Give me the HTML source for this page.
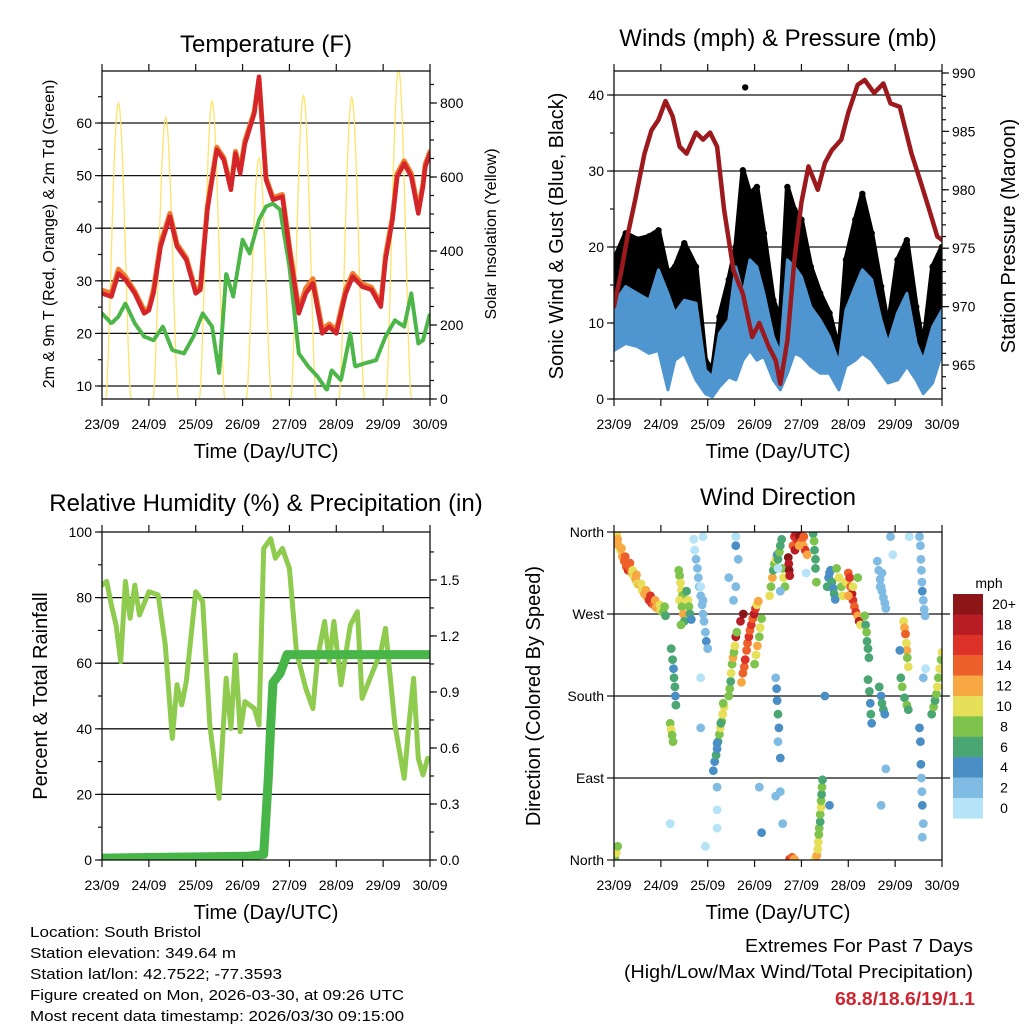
<!DOCTYPE html>
<html><head><meta charset="utf-8"><title>Station Meteogram</title>
<style>
html,body{margin:0;padding:0;background:#fff;}
svg{display:block;font-family:"Liberation Sans",Arial,sans-serif;}
</style></head>
<body>
<svg id="chart" width="1024" height="1024" viewBox="0 0 1024 1024" xmlns="http://www.w3.org/2000/svg">
<rect x="0" y="0" width="1024" height="1024" fill="#fff"/>
<text x="266" y="52" font-size="24" text-anchor="middle">Temperature (F)</text>
<text x="778" y="46" font-size="24" text-anchor="middle">Winds (mph) &amp; Pressure (mb)</text>
<text x="266" y="511" font-size="24" text-anchor="middle">Relative Humidity (%) &amp; Precipitation (in)</text>
<text x="778" y="505" font-size="24" text-anchor="middle">Wind Direction</text>
<text x="266" y="458" font-size="20" text-anchor="middle">Time (Day/UTC)</text>
<text x="778" y="458" font-size="20" text-anchor="middle">Time (Day/UTC)</text>
<text x="266" y="919" font-size="20" text-anchor="middle">Time (Day/UTC)</text>
<text x="778" y="919" font-size="20" text-anchor="middle">Time (Day/UTC)</text>
<text transform="translate(54,234) rotate(-90)" font-size="16" text-anchor="middle">2m &amp; 9m T (Red, Orange) &amp; 2m Td (Green)</text>
<text transform="translate(496,234) rotate(-90)" font-size="16" text-anchor="middle">Solar Insolation (Yellow)</text>
<text transform="translate(563,236) rotate(-90)" font-size="20" text-anchor="middle">Sonic Wind &amp; Gust (Blue, Black)</text>
<text transform="translate(1015,236) rotate(-90)" font-size="20" text-anchor="middle">Station Pressure (Maroon)</text>
<text transform="translate(47,696) rotate(-90)" font-size="20" text-anchor="middle">Percent &amp; Total Rainfall</text>
<text transform="translate(540,696) rotate(-90)" font-size="20" text-anchor="middle">Direction (Colored By Speed)</text>
<g font-size="15">
<text x="30" y="937" textLength="171" lengthAdjust="spacingAndGlyphs">Location: South Bristol</text>
<text x="30" y="958" textLength="206" lengthAdjust="spacingAndGlyphs">Station elevation: 349.64 m</text>
<text x="30" y="979" textLength="252" lengthAdjust="spacingAndGlyphs">Station lat/lon: 42.7522; -77.3593</text>
<text x="30" y="1000" textLength="374" lengthAdjust="spacingAndGlyphs">Figure created on Mon, 2026-03-30, at 09:26 UTC</text>
<text x="30" y="1021" textLength="374" lengthAdjust="spacingAndGlyphs">Most recent data timestamp: 2026/03/30 09:15:00</text>
</g>
<g font-size="18">
<text x="745" y="952" textLength="228" lengthAdjust="spacingAndGlyphs">Extremes For Past 7 Days</text>
<text x="624" y="978" textLength="349" lengthAdjust="spacingAndGlyphs">(High/Low/Max Wind/Total Precipitation)</text>
<text x="835" y="1005" textLength="140" lengthAdjust="spacingAndGlyphs" fill="#cf2430" font-weight="bold">68.8/18.6/19/1.1</text>
</g>
<g id="plots"></g>
</svg>
<script>
// ---------- data (time in days since 23/09 00 UTC) ----------
const dayLabels = ["23/09","24/09","25/09","26/09","27/09","28/09","29/09","30/09"];
const tempTime = [0,0.2,0.35,0.5,0.7,0.9,1.0,1.1,1.25,1.45,1.6,1.8,2.0,2.1,2.25,2.45,2.6,2.75,2.85,2.95,3.05,3.25,3.35,3.5,3.65,3.85,4.0,4.2,4.35,4.5,4.7,4.85,5.0,5.2,5.35,5.55,5.75,5.95,6.05,6.2,6.3,6.45,6.6,6.75,6.85,6.9,7.0];
const temp2m = [27.6,27,31.4,30.2,27.6,23.8,24.4,27.6,36.5,42.2,36.5,34,27.6,28.3,43.5,54.9,53,47.3,54.2,50.4,56,61.8,68.8,49.2,45.4,46,35.9,23.8,27.6,29.5,20,21.3,20,27.6,30.8,28.9,28.3,25.1,34,41.6,49.8,52.3,49.8,42.8,47.9,51.7,54.2];
const temp9m = [28.2,27.6,32.2,30.8,28.0,24.4,24.8,28.4,37.2,42.8,37.0,34.4,28.2,28.8,44.2,55.4,53.4,47.8,54.6,51.0,56.6,62.2,68.4,49.6,45.8,46.4,36.6,24.6,28.6,30.4,20.8,21.8,20.6,28.4,31.4,29.4,28.8,25.6,34.8,42.2,50.4,52.8,50.4,43.4,48.4,52.2,54.6];
const dewTime = [0,0.2,0.35,0.5,0.7,0.9,1.1,1.3,1.5,1.75,1.95,2.15,2.35,2.5,2.65,2.8,3.0,3.15,3.35,3.5,3.65,3.8,4.0,4.2,4.4,4.6,4.8,4.9,5.1,5.3,5.4,5.6,5.85,6.05,6.25,6.45,6.6,6.75,6.85,7.0];
const dewpoint = [23.8,21.9,23.2,25.7,21.9,19.4,18.7,21.3,16.8,16.2,19.4,23.8,21.3,12.4,31.4,27,37.8,35.2,41.6,44.1,44.7,43.5,32.7,16.2,13.7,11.8,9.2,13,11.1,20,13.7,14.3,14.9,19.4,22.5,21.3,27.6,18.1,18.7,23.8];
const solarPeak = [800,760,805,650,820,815,890];
const solarNoon = [0.35,1.36,2.35,3.35,4.3,5.33,6.33];
const tempTicks = [10,20,30,40,50,60];
const solarTicks = [0,200,400,600,800];

const windTime = [0,0.25,0.5,0.75,0.95,1.15,1.3,1.5,1.75,1.95,2.1,2.25,2.45,2.6,2.75,2.9,3.05,3.2,3.4,3.55,3.7,3.85,4.0,4.2,4.4,4.6,4.8,4.95,5.15,5.3,5.5,5.7,5.85,6.05,6.25,6.45,6.6,6.8,7.0];
const gustMax = [18.3,21.8,21,21.4,22.2,16.5,17.4,20.5,17.4,5.1,3.8,10.8,15.7,20,30.1,27,27.9,21.8,13,10.4,27.9,24.9,23.6,17.4,13.9,11.3,6.4,18.3,23.6,27,21.8,14.8,9.5,18.3,20.9,12.1,6.9,17.4,20];
const sonicHigh = [12.6,14.8,13.9,13,17,13.9,11.3,13,12.6,3.8,2.9,8.6,10.4,17.4,13.9,18.3,17.4,13.9,8.2,6,18.3,17.4,16.1,12.1,10.4,8.2,4.7,11.7,14.8,17,15.7,10.4,7.3,11.3,13.9,7.3,5.1,9.5,11.7];
const sonicLow = [6.4,7.3,6.9,6,6.4,1.2,5.1,6,2.5,0.7,0.3,1.6,2.9,2.5,5.1,6.4,5.1,5.6,2.5,1.2,3.4,6,5.6,4.3,3.4,3.4,1.2,4.3,5.1,6,5.1,3.4,2.1,2.5,4.3,2.5,0.7,2.1,6];
const gustOutlierTime = [2.8];
const gustOutlier = [41];
const presTime = [0,0.15,0.3,0.45,0.65,0.8,0.95,1.1,1.25,1.4,1.55,1.75,1.9,2.05,2.2,2.35,2.55,2.75,2.95,3.1,3.3,3.45,3.55,3.7,3.85,4.0,4.15,4.35,4.5,4.65,4.85,5.0,5.2,5.35,5.55,5.75,5.9,6.1,6.35,6.55,6.75,6.9,7.0];
const pressure = [970,972.9,976.3,979.1,983.1,985.1,986,987.6,986.3,983.7,983.1,984.9,984.3,984.9,983.7,978.3,973.1,971.1,967.4,968.6,966.6,965.4,963.4,967.1,974,978.9,982,980,982.3,983.4,984.3,986.6,989,989.4,988.3,989.1,987.4,987.1,983.1,980.6,978,976,975.7];
const windTicks = [0,10,20,30,40];
const presTicks = [965,970,975,980,985,990];

const rhTime = [0,0.1,0.2,0.3,0.4,0.5,0.6,0.7,0.8,1.0,1.2,1.35,1.5,1.6,1.7,1.8,2.0,2.15,2.3,2.5,2.65,2.75,2.85,2.95,3.05,3.25,3.35,3.45,3.6,3.7,3.85,4.0,4.15,4.35,4.5,4.6,4.75,4.85,4.95,5.1,5.3,5.45,5.55,5.75,5.95,6.05,6.25,6.45,6.55,6.65,6.75,6.85,6.95];
const rhValues = [83.8,84.9,77.7,71.6,60.5,84.9,73.7,83.8,74.7,81.8,80.8,65.5,37.1,53.4,47.3,54.4,81.8,78.8,41.2,18.8,55.4,40.1,62.5,39.1,48.3,46.2,41.2,95,98,92,95,88.9,63.5,52.3,46.2,61.5,72.7,60.5,72.7,53.4,71.6,75.7,49.3,56.4,63.5,70.6,41.2,24.9,41.2,55.4,31,25.9,31];
const precipTime = [0,3.1,3.45,3.55,3.6,3.65,3.8,3.95,7.0];
const precipTotal = [0.01,0.02,0.03,0.44,0.72,0.95,1.0,1.1,1.1];
const rhTicks = [0,20,40,60,80,100];
const precipTicks = [0.0,0.3,0.6,0.9,1.2,1.5];
const precipTickLabels = ["0.0","0.3","0.6","0.9","1.2","1.5"];

const dirTickValues = [0,90,180,270,360];
const dirTickLabels = ["North","East","South","West","North"];
const speedBins = ["0","2","4","6","8","10","12","14","16","18","20+"];
const speedColors = ["#b5e3f7","#7fbbe3","#4a8ec6","#4aa673","#7ec34b","#e6df58","#f7a843","#ee6029","#dd3228","#b81c24","#8c1518"];
// [time, direction deg, speed mph]
const dirObs = [
[0.00,355,10],[0.03,350,12],[0.06,357,11],[0.10,345,12],[0.14,340,11],[0.18,333,13],[0.22,328,14],[0.26,322,15],[0.30,318,16],[0.34,326,14],[0.38,315,12],[0.42,312,11],[0.46,308,13],[0.50,303,10],[0.55,302,12],[0.60,296,11],[0.65,292,13],[0.70,289,12],[0.75,285,17],[0.80,282,16],[0.85,280,14],[0.90,277,12],[0.95,276,12],[1.00,274,10],[1.05,272,8],[1.10,268,7],
[0.02,360,11],[0.08,352,13],[0.16,342,12],[0.24,333,14],[0.32,322,15],[0.40,318,10],[0.48,313,12],[0.58,303,11],[0.68,296,12],[0.78,290,16],[0.88,285,12],[0.98,280,11],[1.08,278,9],
[1.38,318,8],[1.40,312,9],[1.42,304,10],[1.44,296,11],[1.46,290,8],[1.40,285,10],[1.45,278,9],[1.48,270,12],[1.50,262,7],[1.43,258,8],
[1.55,295,7],[1.58,285,10],[1.60,278,8],[1.62,270,6],[1.65,264,4],
[1.22,232,6],[1.25,220,6],[1.27,210,5],[1.28,200,6],[1.30,190,6],[1.31,180,4],[1.32,170,6],[1.20,150,8],[1.22,143,10],[1.24,137,9],[1.26,130,8],
[1.70,352,1],[1.75,330,2],[1.78,320,2],[1.80,310,3],[1.82,300,2],[1.85,290,2],[1.88,280,2],[1.90,270,3],[1.92,262,2],[1.95,250,2],[1.97,240,4],[2.00,232,2],[1.85,300,1],[1.90,285,2],[1.72,340,1],
[2.12,98,4],[2.15,108,4],[2.18,115,6],[2.20,122,4],[2.22,130,6],[2.25,138,8],[2.27,145,10],[2.30,152,8],[2.32,160,10],[2.35,168,10],[2.20,128,4],[2.28,150,6],[2.33,172,8],
[2.45,180,8],[2.47,188,8],[2.49,196,6],[2.50,205,10],[2.52,215,8],[2.54,222,12],[2.56,228,8],[2.58,235,10],[2.60,245,18],[2.62,250,8],
[2.72,195,12],[2.75,205,14],[2.78,212,14],[2.80,220,16],[2.83,230,14],[2.85,238,14],[2.88,245,16],[2.90,252,14],[2.93,258,16],[2.96,265,14],[2.99,270,18],[3.02,276,16],[3.05,280,10],[3.08,284,12],[2.70,262,18],[2.76,270,20],
[3.00,215,8],[3.03,225,10],[3.06,235,12],[3.10,245,8],[3.12,255,10],[3.15,265,9],
[3.45,200,2],[3.47,188,4],[3.48,175,4],[3.50,160,6],[3.52,145,4],[3.50,130,2],[3.55,112,4],
[3.32,290,10],[3.35,300,8],[3.38,310,12],[3.40,318,6],[3.42,325,8],[3.45,330,10],[3.48,335,4],[3.50,330,6],[3.53,338,8],[3.55,345,6],[3.58,352,6],[3.60,320,8],[3.62,310,10],[3.65,300,8],
[3.72,332,20],[3.73,325,18],[3.74,318,20],[3.75,312,18],
[3.82,345,14],[3.85,355,16],[3.88,358,18],[3.90,352,16],[3.93,360,18],[3.96,355,20],[4.00,350,14],[4.04,345,12],[4.08,340,16],[4.12,335,12],[3.86,340,18],[3.95,345,12],[4.05,355,14],
[4.25,358,6],[4.27,350,8],[4.28,340,6],[4.30,330,6],[4.30,320,6],[4.32,305,8],
[4.30,2,10],[4.33,5,12],[4.35,12,10],[4.36,20,10],[4.37,28,8],[4.38,35,8],[4.40,42,6],[4.40,50,8],[4.42,58,10],[4.42,65,8],[4.43,72,6],[4.44,80,8],[4.45,88,6],
[3.75,1,16],[3.80,3,14],[3.85,1,12],[0.02,2,8],[0.05,8,10],[0.08,15,8],
[4.55,300,6],[4.58,310,4],[4.60,315,4],[4.62,318,4],[4.65,305,6],[4.68,298,4],[4.70,292,6],[4.72,286,4],[4.75,320,8],[4.80,310,10],[4.85,300,8],[4.88,290,10],
[4.95,305,10],[5.00,315,14],[5.03,310,16],[5.05,300,14],[5.08,292,18],[5.10,285,16],[5.13,278,14],[5.16,272,16],[5.20,268,12],[5.23,262,18],[5.26,258,10],[5.00,290,12],[5.10,300,10],[5.20,310,8],
[5.35,268,8],[5.37,258,6],[5.39,250,8],[5.40,240,6],[5.42,232,6],[5.44,222,6],
[5.42,198,6],[5.45,185,6],[5.47,172,4],[5.48,160,6],[5.50,150,4],
[5.62,328,2],[5.65,318,2],[5.68,308,2],[5.70,300,2],[5.72,295,2],[5.75,288,2],[5.78,282,2],[5.80,276,2],[5.72,315,2],[5.68,300,2],
[5.66,190,6],[5.70,180,4],[5.72,172,6],[5.75,165,6],[5.78,160,4],
[6.18,262,10],[6.20,255,12],[6.22,248,14],[6.24,238,10],[6.25,230,12],[6.26,222,8],[6.28,212,10],
[6.12,200,6],[6.15,190,8],[6.20,178,6],[6.25,170,8],[6.28,165,6],
[6.52,355,2],[6.54,345,2],[6.55,330,2],[6.56,318,2],[6.57,305,2],[6.58,295,4],[6.60,285,2],[6.62,275,2],[6.64,268,2],
[6.52,145,4],[6.54,130,4],[6.55,105,4],[6.56,90,2],[6.57,75,2],[6.58,60,4],[6.60,40,2],[6.58,25,2],
[6.78,160,6],[6.82,168,8],[6.85,175,6],[6.88,182,8],[6.90,190,10],[6.92,200,8],[6.95,210,10],[6.98,220,8],[7.00,228,10],
[1.90,355,1],[2.60,355,1],[2.60,345,4],[2.65,330,2],[2.55,285,2],[2.45,310,2],[1.85,200,1],[1.85,145,2],[2.20,80,2],[2.20,55,1],[2.20,35,1],[1.20,40,1],[2.60,300,2],[3.50,320,1],[3.55,295,2],[3.55,75,2],[3.45,70,2],[3.10,80,2],[3.15,30,4],[4.10,315,1],[5.90,355,2],[6.30,355,1],[5.95,335,1],[5.70,60,2],[5.80,100,2],[6.60,200,2],[4.50,180,4],[6.10,230,4],[6.65,210,1],[4.60,60,4],[3.60,40,2],[1.95,15,1]
];

// ---------- helpers ----------
const NS = "http://www.w3.org/2000/svg";
const root = document.getElementById("plots");
function mk(tag, parent) { const e = document.createElementNS(NS, tag); (parent || root).appendChild(e); return e; }
function pathFrom(xs, ys, fx, fy) { let d = ""; for (let i = 0; i < xs.length; i++) d += (i ? "L" : "M") + fx(xs[i]).toFixed(1) + "," + fy(ys[i]).toFixed(1); return d; }

function panel(x0, x1, y0, y1) { return { x0, x1, y0, y1, X: d => x0 + d * (x1 - x0) / 7 }; }
const P1 = panel(102, 430, 71, 399);
const P2 = panel(614, 942, 71, 399);
const P3 = panel(102, 430, 532, 860);
const P4 = panel(614, 942, 532, 860);
const yTemp = v => 386 - (v - 10) * 5.26;
const ySolar = v => 399 - v * 0.37;
const yWind = v => 399 - v * 7.6;
const yPres = v => 365 - (v - 965) * 11.68;
const yRH = v => 860 - v * 3.28;
const yPrec = v => 860 - v * 186.7;
const yDir = v => 860 - v * 328 / 360;

function clipFor(P, id) {
  const cp = mk("clipPath"); cp.setAttribute("id", id);
  
  
  const r = mk("rect", cp); r.setAttribute("x", P.x0); r.setAttribute("y", P.y0); r.setAttribute("width", P.x1 - P.x0); r.setAttribute("height", P.y1 - P.y0);
  const g = mk("g"); g.setAttribute("clip-path", "url(#" + id + ")");
  
  
  return g;
}
function gridLines(P, vals, fy, ext) {
  vals.forEach(v => {
    const y = fy(v); if (y <= P.y0 + 1 || y >= P.y1 - 1) return;
    const l = mk("line"); l.setAttribute("x1", P.x0); l.setAttribute("x2", P.x1 + (ext || 0)); l.setAttribute("y1", y); l.setAttribute("y2", y);
    l.setAttribute("stroke", "#111"); l.setAttribute("stroke-width", "1.3");
    
    
  });
}
function tick(x1, y1, x2, y2) {
  const l = mk("line"); l.setAttribute("x1", x1); l.setAttribute("y1", y1); l.setAttribute("x2", x2); l.setAttribute("y2", y2);
  l.setAttribute("stroke", "#111"); l.setAttribute("stroke-width", "1.2");
  
  
}
function label(x, y, txt, anchor, size) {
  const t = mk("text"); t.setAttribute("x", x); t.setAttribute("y", y); t.setAttribute("text-anchor", anchor); t.setAttribute("font-size", size || 14);
  t.textContent = txt;
  
  
}
function frame(P) {
  const r = mk("rect"); r.setAttribute("x", P.x0); r.setAttribute("y", P.y0); r.setAttribute("width", P.x1 - P.x0); r.setAttribute("height", P.y1 - P.y0);
  r.setAttribute("fill", "none"); r.setAttribute("stroke", "#111"); r.setAttribute("stroke-width", "1.3");
  
  
  dayLabels.forEach((lab, i) => {
    const x = P.X(i); tick(x, P.y1, x, P.y1 + 7); tick(x, P.y0, x, P.y0 - 7);
    label(x, P.y1 + 30, lab, "middle", 14);
  });
}
function leftAxis(P, vals, labs, fy, minorStep, lo, hi) {
  vals.forEach((v, i) => { const y = fy(v); tick(P.x0, y, P.x0 - 7, y); label(P.x0 - 10, y + 5, labs[i], "end", 14); });
  if (minorStep) for (let v = lo; v <= hi + 1e-9; v += minorStep) { const y = fy(v); if (y >= P.y0 && y <= P.y1) tick(P.x0, y, P.x0 - 4, y); }
}
function rightAxis(P, vals, labs, fy, minorStep, lo, hi) {
  vals.forEach((v, i) => { const y = fy(v); tick(P.x1, y, P.x1 + 7, y); label(P.x1 + 10, y + 5, labs[i], "start", 14); });
  if (minorStep) for (let v = lo; v <= hi + 1e-9; v += minorStep) { const y = fy(v); if (y >= P.y0 && y <= P.y1) tick(P.x1, y, P.x1 + 4, y); }
}
function line(g, xs, ys, P, fy, color, w, name, dash) {
  const p = mk("path", g); p.setAttribute("d", pathFrom(xs, ys, P.X, fy));
  p.setAttribute("fill", "none"); p.setAttribute("stroke", color); p.setAttribute("stroke-width", w);
  p.setAttribute("stroke-linejoin", "round"); p.setAttribute("stroke-linecap", "round");
  if (dash) p.setAttribute("stroke-dasharray", dash);
  
  
  return p;
}

// ---------- Panel 1: temperature ----------
gridLines(P1, tempTicks, yTemp);
const g1 = clipFor(P1, "c1");
solarPeak.forEach((pk, i) => {
  const c = solarNoon[i]; let d = "";
  for (let k = 0; k <= 40; k++) {
    const f = k / 40, t = c - 0.27 + 0.54 * f, s = Math.pow(Math.sin(Math.PI * f), 1.6);
    d += (k ? "L" : "M") + P1.X(t).toFixed(1) + "," + ySolar(pk * s).toFixed(1);
  }
  const p = mk("path", g1); p.setAttribute("d", d); p.setAttribute("fill", "none"); p.setAttribute("stroke", "#ffe36b"); p.setAttribute("stroke-width", "1.3");
  
  
});
line(g1, dewTime, dewpoint, P1, yTemp, "#4cb648", 4, "dewpoint-2m-line", "3 2");
line(g1, tempTime, temp9m, P1, yTemp, "#f07c2c", 5, "temperature-9m-line");
line(g1, tempTime, temp2m, P1, yTemp, "#d4252a", 4.5, "temperature-2m-line");
frame(P1);
leftAxis(P1, tempTicks, tempTicks.map(String), yTemp, 5, 5, 70);
rightAxis(P1, solarTicks, solarTicks.map(String), ySolar, 50, 0, 900);

// ---------- Panel 2: winds & pressure ----------
gridLines(P2, windTicks, yWind);
const g2 = clipFor(P2, "c2");
{
  let d = pathFrom(windTime, gustMax, P2.X, yWind);
  for (let i = windTime.length - 1; i >= 0; i--) d += "L" + P2.X(windTime[i]).toFixed(1) + "," + yWind(sonicHigh[i]).toFixed(1);
  const p = mk("path", g2); p.setAttribute("d", d + "Z"); p.setAttribute("fill", "#000"); p.setAttribute("stroke", "#000"); p.setAttribute("stroke-width", "5"); p.setAttribute("stroke-linejoin", "round");
  
  
  windTime.forEach((t, i) => {
    const c = mk("circle", g2); c.setAttribute("cx", P2.X(t)); c.setAttribute("cy", yWind(gustMax[i])); c.setAttribute("r", 3.2); c.setAttribute("fill", "#000");
    
    
  });
  gustOutlierTime.forEach((t, i) => {
    const c = mk("circle", g2); c.setAttribute("cx", P2.X(t)); c.setAttribute("cy", yWind(gustOutlier[i])); c.setAttribute("r", 3.2); c.setAttribute("fill", "#000");
    
    
  });
  let b = pathFrom(windTime, sonicHigh, P2.X, yWind);
  for (let i = windTime.length - 1; i >= 0; i--) b += "L" + P2.X(windTime[i]).toFixed(1) + "," + yWind(sonicLow[i]).toFixed(1);
  const q = mk("path", g2); q.setAttribute("d", b + "Z"); q.setAttribute("fill", "#4f95d0"); q.setAttribute("stroke", "#4f95d0"); q.setAttribute("stroke-width", "3"); q.setAttribute("stroke-linejoin", "round");
  
  
}
line(g2, presTime, pressure, P2, yPres, "#9c1a1e", 4.5, "station-pressure-line");
frame(P2);
leftAxis(P2, windTicks, windTicks.map(String), yWind, 5, 0, 45);
rightAxis(P2, presTicks, presTicks.map(String), yPres, 1, 962, 990);

// ---------- Panel 3: RH & precipitation ----------
gridLines(P3, rhTicks, yRH);
const g3 = clipFor(P3, "c3");
line(g3, rhTime, rhValues, P3, yRH, "#8fcb4f", 5, "relative-humidity-line");
line(g3, precipTime, precipTotal, P3, yPrec, "#48b548", 9, "total-precipitation-line");
frame(P3);
leftAxis(P3, rhTicks, rhTicks.map(String), yRH, 10, 0, 100);
rightAxis(P3, precipTicks, precipTickLabels, yPrec, 0.15, 0, 1.75);

// ---------- Panel 4: wind direction ----------
gridLines(P4, dirTickValues, yDir, 8);
const g4 = clipFor(P4, "c4");
dirObs.forEach(o => {
  const idx = Math.min(10, Math.floor(o[2] / 2));
  const c = mk("circle", g4); c.setAttribute("cx", P4.X(o[0]).toFixed(1)); c.setAttribute("cy", yDir(o[1]).toFixed(1)); c.setAttribute("r", 4.4);
  c.setAttribute("fill", speedColors[idx]);
  
  
});
frame(P4);
leftAxis(P4, dirTickValues, dirTickLabels, yDir, 0, 0, 0);
// colorbar legend
{
  const lg = mk("g");
  
  
  const t = mk("text", lg); t.setAttribute("x", 989); t.setAttribute("y", 588); t.setAttribute("font-size", 14); t.setAttribute("text-anchor", "middle"); t.textContent = "mph";
  
  
  const n = speedBins.length;
  for (let i = 0; i < n; i++) {
    const k = n - 1 - i, y = 594 + i * 20.4;
    const r = mk("rect", lg); r.setAttribute("x", 953); r.setAttribute("y", y.toFixed(1)); r.setAttribute("width", 30); r.setAttribute("height", 20.6); r.setAttribute("fill", speedColors[k]);
    
    
    const tx = mk("text", lg); tx.setAttribute("x", 1004); tx.setAttribute("y", (y + 15).toFixed(1)); tx.setAttribute("font-size", 14); tx.setAttribute("text-anchor", "middle"); tx.textContent = speedBins[k];
    
    
  }
}
</script>
</body></html>
